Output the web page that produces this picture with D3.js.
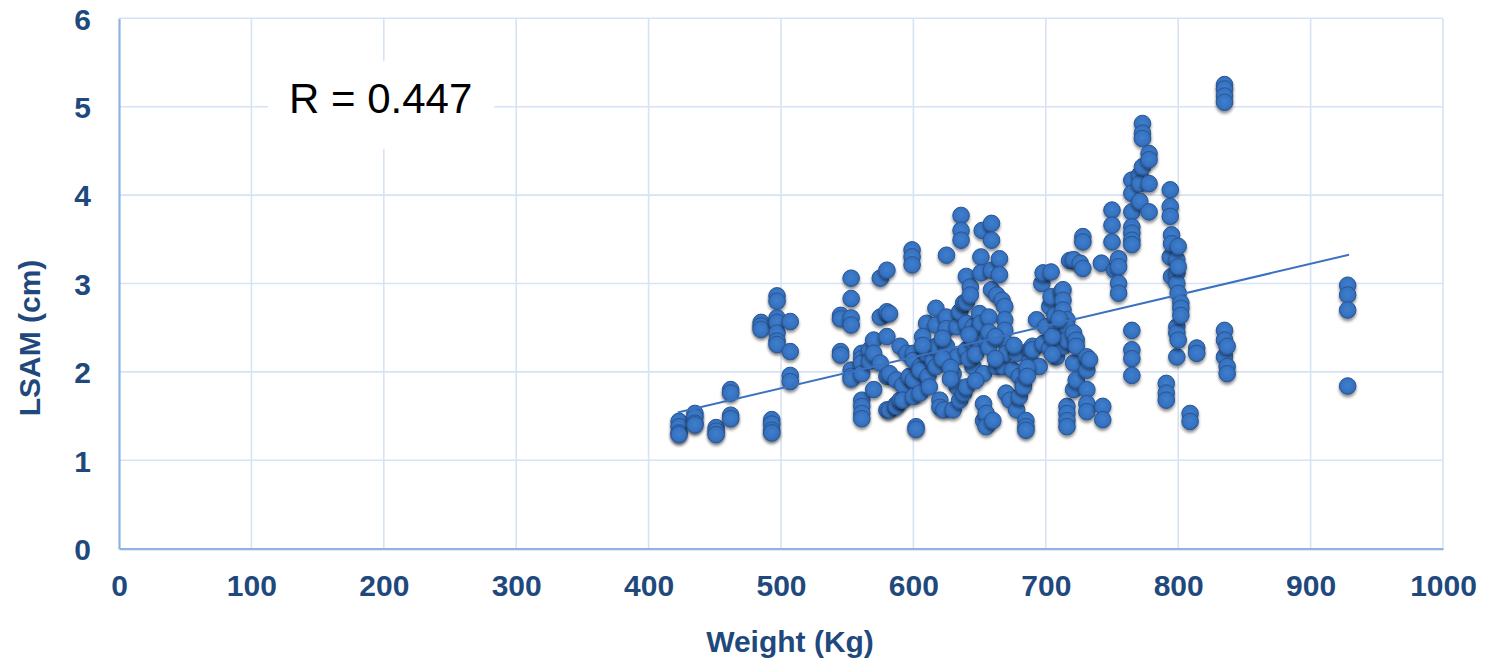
<!DOCTYPE html>
<html>
<head>
<meta charset="utf-8">
<script src="https://cdn.jsdelivr.net/npm/d3@7"></script>
<style>
  html, body { margin: 0; padding: 0; background: #ffffff; }
  svg { display: block; }
</style>
</head>
<body>
<svg id="chart" width="1487" height="663"></svg>
<script>
// ---- Data ----
const xTicks = [0, 100, 200, 300, 400, 500, 600, 700, 800, 900, 1000];
const yTicks = [0, 1, 2, 3, 4, 5, 6];
const xTitle = "Weight (Kg)";
const yTitle = "LSAM (cm)";
const rLabel = "R = 0.447";

// weight values (Kg), one per column of points
const weightColumns = [423, 435, 451, 462, 485, 493, 497, 507, 545, 553, 561, 567, 570, 575, 580, 582, 587, 590, 592, 595,
  597, 599, 600, 602, 605, 610, 611, 612, 615, 617, 620, 623, 625, 630, 633, 635, 636, 638, 640, 643,
  645, 650, 651, 652, 653, 655, 659, 660, 663, 665, 667, 668, 669, 670, 673, 675, 678, 680, 683, 685,
  688, 690, 693, 695, 697, 698, 700, 703, 704, 707, 708, 709, 712, 713, 716, 718, 721, 723, 726, 728,
  731, 733, 742, 743, 750, 752, 755, 765, 771, 773, 778, 791, 794, 795, 799, 800, 802, 809, 814, 835,
  837, 928,
  607, 622, 628, 642, 647, 657, 662, 676, 686, 705, 710];

// LSAM values (cm) for each weight column
const lsamByColumn = [
  [1.44, 1.38, 1.31, 1.29], [1.53, 1.49, 1.42, 1.40], [1.37, 1.33, 1.29], [1.80, 1.76, 1.51, 1.47],
  [2.56, 2.52, 2.48], [1.46, 1.41, 1.34, 1.31], [2.86, 2.80, 2.61, 2.56, 2.44, 2.35, 2.31],
  [2.57, 2.23, 1.96, 1.89], [2.64, 2.60, 2.23, 2.19], [3.06, 2.83, 2.61, 2.53, 2.02, 1.95, 1.92],
  [2.21, 2.15, 2.10, 1.98, 1.68, 1.61, 1.53, 1.47], [2.25, 2.12], [2.36, 2.21, 1.80], [3.06, 2.62, 2.10],
  [3.15, 2.68, 2.40, 1.95, 1.57], [2.66, 1.98, 1.57], [1.91, 1.63, 1.61], [2.29, 1.68], [1.85, 1.68], [2.21],
  [1.95], [3.38, 3.30, 3.21], [2.21, 2.13, 1.91, 1.72], [1.38, 1.35], [2.06, 2.02, 1.76], [2.55, 2.25, 2.21],
  [1.95], [1.83], [2.13], [2.72, 2.53, 2.29, 2.06], [1.68, 1.60], [1.57], [3.32, 2.62, 2.49, 2.29],
  [1.98, 1.57], [2.51, 2.17, 1.83], [2.68, 1.68], [3.77, 3.60, 3.49], [2.78, 1.76], [3.08, 2.79, 2.55, 2.25, 1.83],
  [2.96, 2.87], [2.51, 2.34, 2.06], [2.66, 2.51, 2.32], [3.30, 3.12, 2.55], [3.60], [1.98, 1.64, 1.45],
  [2.36, 1.53, 1.38], [3.68, 3.49, 3.15, 2.93], [1.45], [2.87, 2.06], [3.28, 3.10], [2.81], [2.06],
  [2.74, 2.59, 2.47], [2.32, 2.21, 1.76], [1.68], [2.02], [2.21, 1.57], [1.95, 1.72], [1.87, 1.83],
  [1.45, 1.38, 1.34], [2.25, 2.12], [2.29, 2.25], [2.59], [2.06], [3.00], [3.12, 2.32], [2.51],
  [2.74, 2.27], [3.13, 2.85], [2.64], [2.17], [2.51], [2.91, 2.36], [2.93, 2.81, 2.70, 2.29],
  [2.59, 2.51, 2.36, 1.61, 1.53, 1.45, 1.38], [3.26], [3.27, 2.44, 2.10, 1.80], [2.36, 2.29, 1.91], [3.23],
  [3.53, 3.47, 3.17], [2.17, 2.02, 1.80, 1.64, 1.55], [2.14], [3.23], [1.61, 1.46], [3.83, 3.66, 3.47],
  [3.15], [3.28, 3.19, 3.00, 2.89], [4.17, 4.02, 3.81, 3.64, 3.57, 3.49, 3.44, 2.47, 2.25, 2.15, 1.96],
  [4.23, 4.13, 3.93], [4.81, 4.70, 4.64, 4.32], [4.47, 4.40, 4.13, 3.81], [1.87, 1.76, 1.68],
  [4.06, 3.87, 3.76, 3.30], [3.55, 3.45, 3.08], [3.27, 3.12, 3.00, 2.51, 2.44, 2.17], [3.42, 3.19, 2.89, 2.36],
  [2.78, 2.72, 2.64], [1.53, 1.44], [2.27, 2.21], [5.25, 5.20, 5.12, 5.05, 2.47, 2.36, 2.17],
  [2.29, 2.06, 1.98], [2.98, 2.87, 2.70, 1.84],
  [2.40, 2.30], [2.38, 2.15], [2.05, 1.92], [2.42, 2.15], [2.20, 1.90], [2.62, 2.45, 2.28], [2.40, 2.15],
  [2.30], [2.05, 1.95], [2.40, 2.20], [2.60]
];

// linear trend line as drawn in the reference (start/end weight, slope, intercept)
const trendRange = [422, 929];
const trendSlope = 0.00352;
const trendIntercept = 0.055;

// ---- Build ----
const points = [];
weightColumns.forEach((w, i) => lsamByColumn[i].forEach(v => points.push({ x: w, y: v })));

const W = 1487, H = 663;
const margin = { left: 119, right: 1487 - 1443, top: 18.3, bottom: 663 - 548.7 };
const svg = d3.select("#chart");

const x = d3.scaleLinear().domain([0, 1000]).range([margin.left, W - margin.right]);
const y = d3.scaleLinear().domain([0, 6]).range([H - margin.bottom, margin.top]);

const defs = svg.append("defs");
const filt = defs.append("filter").attr("id", "shadow")
  .attr("x", "-50%").attr("y", "-50%").attr("width", "200%").attr("height", "220%");
filt.append("feDropShadow").attr("dx", 0).attr("dy", 2.5).attr("stdDeviation", 1.6)
  .attr("flood-color", "#000").attr("flood-opacity", 0.45);
const grad = defs.append("radialGradient").attr("id", "dotFill").attr("cx", "50%").attr("cy", "45%").attr("r", "55%");
grad.append("stop").attr("offset", "0%").attr("stop-color", "#3f7fcd");
grad.append("stop").attr("offset", "75%").attr("stop-color", "#3571c0");
grad.append("stop").attr("offset", "100%").attr("stop-color", "#2c62ab");

const gridColor = "#d6e3f5";
const axisColor = "#8db3e2";
const labelColor = "#1f497d";
const fontBold = "'Liberation Sans', Arial, sans-serif";

// gridlines
const grid = svg.append("g");
grid.selectAll("line.v").data(xTicks.filter(d => d > 0)).join("line")
  .attr("x1", d => x(d)).attr("x2", d => x(d))
  .attr("y1", y(6)).attr("y2", y(0))
  .attr("stroke", gridColor).attr("stroke-width", 1.6);
grid.selectAll("line.h").data(yTicks.filter(d => d > 0)).join("line")
  .attr("x1", x(0)).attr("x2", x(1000))
  .attr("y1", d => y(d)).attr("y2", d => y(d))
  .attr("stroke", gridColor).attr("stroke-width", 1.6);

// axes using d3 axis generators (lines styled, ticks hidden)
const xAxis = svg.append("g").attr("transform", `translate(0,${y(0)})`)
  .call(d3.axisBottom(x).tickValues(xTicks).tickSize(0).tickPadding(31).tickFormat(d3.format("d")));
const yAxis = svg.append("g").attr("transform", `translate(${x(0)},0)`)
  .call(d3.axisLeft(y).tickValues(yTicks).tickSize(0).tickPadding(28).tickFormat(d3.format("d")));
[xAxis, yAxis].forEach(g => {
  g.select(".domain").attr("stroke", axisColor).attr("stroke-width", 2.2);
  g.selectAll("text").attr("fill", labelColor).attr("font-family", fontBold)
    .attr("font-weight", "bold").attr("font-size", 30);
});
xAxis.selectAll("text").attr("dy", "0.55em");
yAxis.selectAll("text").attr("dy", "0.36em");

// R label box
svg.append("rect").attr("x", 268).attr("y", 61).attr("width", 226).attr("height", 88).attr("fill", "#fff");
svg.append("text").attr("x", 289).attr("y", 112.5)
  .attr("font-family", "'Liberation Sans', Arial, sans-serif").attr("font-size", 42)
  .attr("fill", "#000").text(rLabel);

// points
svg.append("g").selectAll("circle").data(points).join("circle")
  .attr("cx", d => x(d.x)).attr("cy", d => y(d.y)).attr("r", 8.3)
  .attr("fill", "url(#dotFill)").attr("stroke", "#2a5590").attr("stroke-width", 1)
  .attr("filter", "url(#shadow)");

// trend line
svg.append("line")
  .attr("x1", x(trendRange[0])).attr("y1", y(trendSlope * trendRange[0] + trendIntercept))
  .attr("x2", x(trendRange[1])).attr("y2", y(trendSlope * trendRange[1] + trendIntercept))
  .attr("stroke", "#3a72c0").attr("stroke-width", 2);

// axis titles
svg.append("text").attr("x", 790).attr("y", 652).attr("text-anchor", "middle")
  .attr("font-family", fontBold).attr("font-weight", "bold").attr("font-size", 30)
  .attr("fill", labelColor).text(xTitle);
svg.append("text").attr("transform", "translate(40,338) rotate(-90)").attr("text-anchor", "middle")
  .attr("font-family", fontBold).attr("font-weight", "bold").attr("font-size", 30)
  .attr("fill", labelColor).text(yTitle);
</script>
</body>
</html>
